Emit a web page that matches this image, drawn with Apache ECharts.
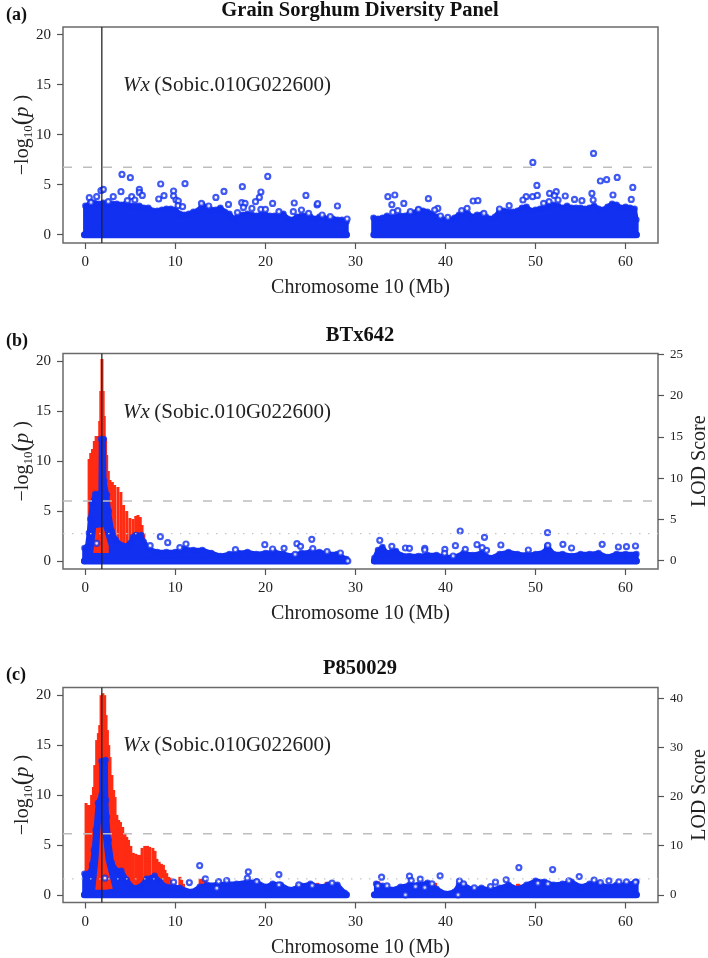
<!DOCTYPE html>
<html><head><meta charset="utf-8">
<style>html,body{margin:0;padding:0;background:#fff}#c{width:708px;height:958px}</style>
<script src="https://cdn.jsdelivr.net/npm/echarts@6/dist/echarts.min.js"></script>
</head><body><div id="c"></div>
<script>
const xTicks=[0,10,20,30,40,50,60];
const yTicks=[0,5,10,15,20];
const lodTicksB=[0,5,10,15,20,25];
const lodTicksC=[0,10,20,30,40];
const geneX=1.83;
const thresholdA=6.74, thresholdB=6.0, thresholdC=6.13;
const dottedB=2.73, dottedC=1.6;
const baseArms=[[-0.1,29],[32.1,61.2]];

const massA1=[[0,0],[0,2.9],[0.5,3.1],[1,3.2],[1.5,3.1],[2,3.2],[2.5,3],[3,3.1],[3.5,3.1],[4,3],[4.5,3.1],[5,2.9],[5.5,2.9],[6,2.9],[6.5,2.7],[7,2.7],[7.5,2.4],[8,2.4],[8.5,2.5],[9,2.6],[9.5,2.6],[10,2.5],[10.5,2.1],[11,2],[11.5,2.1],[12,2.3],[12.5,2.4],[13,3],[13.5,2.7],[14,2.5],[14.5,2.5],[15,2.7],[15.5,2.3],[16,2.1],[16.5,1.6],[17,1.9],[17.5,2],[18,2.1],[18.5,2],[19,1.9],[19.5,2],[20,2],[20.5,1.9],[21,1.9],[21.5,2],[22,2.1],[22.5,1.6],[23,1.5],[23.5,1.8],[24,1.9],[24.5,1.9],[25,1.8],[25.5,1.6],[26,1.8],[26.5,1.7],[27,1.6],[27.5,1.6],[28,1.5],[28.5,1.5],[29,1.3],[29,0]];
const massA2=[[32,0],[32,1.7],[32.5,1.6],[33,1.7],[33.5,1.9],[34,1.7],[34.5,1.8],[35,1.9],[35.5,1.9],[36,2.1],[36.5,2.2],[37,2.5],[37.5,2.4],[38,2.3],[38.5,2.1],[39,1.8],[39.5,1.6],[40,1.5],[40.5,1.5],[41,1.7],[41.5,2],[42,2.2],[42.5,2.1],[43,1.8],[43.5,2],[44,2],[44.5,1.8],[45,1.6],[45.5,1.8],[46,2.4],[46.5,2.4],[47,2.3],[47.5,2.3],[48,2.4],[48.5,2.7],[49,2.8],[49.5,2.4],[50,2.5],[50.5,2.6],[51,2.8],[51.5,2.9],[52,3],[52.5,2.9],[53,2.7],[53.5,2.9],[54,2.7],[54.5,2.7],[55,2.7],[55.5,2.6],[56,2.7],[56.5,2.9],[57,2.6],[57.5,2.5],[58,2.8],[58.5,3.1],[59,3],[59.5,2.7],[60,2.8],[60.5,2.7],[61,2.6],[61.2,1.5],[61.2,0]];
const outA=[[4.07,6.03],[5,5.7],[8.37,5.07],[11.07,5.1],[20.26,5.83],[17.44,4.8],[24.5,3.93],[15.4,4.33],[14.5,3.73],[19.5,4.27],[19.33,3.73],[18.9,3.3],[20.8,3.13],[15.9,3.03],[23.2,3.17],[25.74,2.97],[25.8,3.1],[28,2.87],[29.07,1.57],[3.96,4.3],[6,4.53],[6,4.23],[6.33,3.93],[5.15,3.8],[5.5,3.47],[4.67,3.4],[3.1,3.8],[2.55,3.3],[0.44,3.7],[1.26,3.8],[0.63,3.23],[1.74,4.4],[2,4.53],[9.8,4.37],[9.8,3.87],[8.15,3.57],[8.74,3.9],[10.07,3.47],[10.33,3.37],[10.3,2.9],[10.8,2.8],[17.37,3.2],[17.74,3.13],[17.56,2.73],[18.5,2.63],[19.5,2.53],[20,2.53],[21.5,2.3],[23.1,2.3],[24,2.47],[24.8,2.13],[26.3,1.97],[27.2,1.8],[12.9,3.13],[13.7,2.87],[16.9,2.2],[56.44,8.13],[49.7,7.23],[50.15,4.93],[57.2,5.37],[57.9,5.5],[59.07,5.73],[60.8,4.73],[33.6,3.8],[34.37,3.97],[34.04,3],[35.37,3.13],[38.1,3.6],[43.07,3.37],[43.6,3.4],[39.15,2.63],[38.8,2.47],[42.4,2.63],[47.07,2.9],[48.96,3.8],[48.6,3.47],[49.67,3.8],[50.2,3.93],[51.56,4.13],[52.3,4.3],[52.1,3.9],[51.5,3.3],[50.9,3.13],[52.5,3.47],[53.3,3.87],[54.33,3.53],[55.15,3.4],[56.26,4.13],[58.6,3.97],[60.63,3.53],[56.4,3.47],[34.15,2.23],[34.7,2.4],[37,2.53],[36.1,2.3],[40.26,1.73],[39.44,1.87],[41.8,2.4],[44.26,2.13],[46,2.57]];

const redB=[[0.42,10.2],[0.6,10.8],[0.8,11.2],[1,12],[1.2,12.5],[1.4,12.5],[1.6,14],[1.72,17],[1.85,20.2],[1.98,17],[2.1,14.5],[2.25,12.3],[2.37,10.6],[2.55,9],[2.74,8.1],[3,7.9],[3.25,7.6],[3.62,7.4],[3.95,6.9],[4.25,5.6],[4.6,5],[4.95,4.3],[5.3,4.2],[5.6,4.5],[5.85,4.6],[6.1,4.4],[6.3,3.6],[6.5,2.8],[6.75,1.9],[7.1,1.2]];
const innerRedB=[[0.9,1],[1.2,3.3],[2,3.4],[2.6,1.5],[2.6,0.8]];
const massB1=[[-0.1,0],[-0.1,1.3],[0.2,1.4],[0.4,2.8],[0.55,4.2],[0.75,5.8],[1.1,6.7],[1.7,6.8],[1.75,12.2],[2.05,12.2],[2.1,8],[2.4,6.6],[2.6,5],[2.95,3],[3.4,2.1],[4,1.6],[4.5,1.5],[5,1.8],[5.3,2.4],[5.6,2.6],[6.2,2.6],[6.5,1.9],[7,1.2],[8,0.9],[9,0.9],[10,0.9],[11,1.2],[12,1.1],[13,1.1],[14,0.8],[15,0.5],[16,0.7],[17,0.8],[18,0.9],[19,0.7],[20,0.8],[21,0.9],[22,0.7],[23,0.5],[24,0.8],[25,0.9],[26,0.9],[27,0.7],[28,0.7],[29,0.2],[29,0]];
const massB2=[[32.1,0],[32.1,0.3],[32.5,1.1],[33,1.4],[33.5,0.8],[34,0.9],[34.5,1],[35,0.6],[36,0.5],[37,0.5],[38,0.6],[39,0.6],[40,0.4],[41,0.4],[42,0.8],[43,0.6],[44,0.8],[45,0.3],[46,0.7],[47,0.9],[48,0.7],[49,0.6],[50,0.7],[51,0.9],[51.3,1.5],[52,0.7],[53,0.7],[54,0.5],[55,0.7],[56,0.7],[57,0.8],[58,0.4],[59,0.7],[60,0.7],[61.2,0.7],[61.2,0]];
const outB=[[1.26,1.77],[8.33,2.43],[9.15,1.83],[7.2,1.53],[11.18,1.7],[10.5,1.33],[16.67,1.13],[19.93,1.63],[20.8,1.2],[22.07,1.27],[23.5,1.73],[23.3,0.67],[32.7,2.07],[41.63,3],[44.33,2.37],[51.33,2.83],[53.04,1.67],[57.4,1.67],[46.15,1.6],[41.1,1.53],[43.5,1.63],[39.93,1.17],[39.9,0.77],[34.04,1.47],[35.55,1.3],[36,1.27],[37.7,1.27],[37.7,1.1],[59.2,1.4],[60.1,1.43],[61.1,1.5],[54,1.3],[49.2,1.1],[44.56,1.07],[44.07,1.33],[42.2,1.17],[51.37,1.57],[25.15,2.17],[25.26,1.23],[23.9,1.47],[26.85,0.93],[28.33,0.8],[29.15,0],[40.85,0.5]];

const redC=[[0.08,9.2],[0.3,9],[0.5,9],[0.7,10],[0.9,10.8],[1.05,13],[1.26,15.5],[1.45,16.2],[1.6,17],[1.75,20],[1.95,20.2],[2.15,20],[2.3,18],[2.45,16.5],[2.6,15],[2.74,13.8],[2.95,12],[3.15,10.5],[3.3,9.8],[3.5,8],[3.7,7.5],[3.9,7.3],[4.15,6.8],[4.4,6.2],[4.6,5.8],[4.8,5.5],[5.05,4.9],[5.33,4.2],[5.6,4.1],[5.85,4],[6.07,4],[6.3,4.7],[6.6,4.9],[6.9,4.9],[7.15,4.8],[7.5,4.7],[7.74,4.4],[7.95,3.6],[8.2,3.3],[8.45,3.1],[8.67,3],[8.85,2.5],[9.04,2.17],[9.25,1.8],[9.5,1.7],[10.5,1.8],[10.7,1.5],[10.9,1.1],[12.75,1.6],[13,1.6],[13.3,1.5],[25.8,1.2],[26.75,1.3],[32.4,1.35],[32.6,1.35],[37.4,1.3],[38.9,1.2],[47,1.1],[47.15,1.1],[48,1.1],[48.15,1.1],[49,0.9],[49.3,1]];
const innerRedC=[[1.1,0.5],[1.45,3.5],[1.75,7.5],[1.95,7.5],[2.25,3.5],[3.05,0.6]];
const massC1=[[-0.1,0],[-0.1,2.1],[0.5,2.2],[0.75,3],[0.95,4.5],[1.15,6.5],[1.4,9.2],[1.8,10],[1.8,13.4],[2.25,13.5],[2.3,9.5],[2.4,7.8],[2.6,5.5],[2.95,3.2],[3.5,2.4],[4,2.4],[4.6,1.5],[5.3,0.7],[6.07,0.8],[6.8,1.6],[7.7,1.9],[8.3,1.3],[9,0.8],[9.8,0.8],[10.5,0.7],[11.8,0.3],[12.7,0.8],[13.5,1],[14.6,1],[15.7,1.1],[16.8,1.1],[18,1.3],[19,1.3],[20,0.8],[20.8,1.1],[21.7,1],[22.7,0.5],[23.7,0.8],[24,0.9],[25,1.1],[26,0.8],[27,1],[28,1],[28.8,0.2],[28.8,0]];
const massC2=[[32.3,0],[32.3,1.1],[33,0.9],[34,0.5],[35,0.8],[36,1],[37,1],[38,1.2],[39,0.6],[40,0.1],[41,0.3],[41.5,1],[42,1],[43,0.5],[44,0.7],[45,0.5],[46,0.7],[47,1],[48,0.6],[49,1],[50,1.4],[51,1.3],[52,1],[53,1.1],[54,1.3],[55,0.8],[56,1.1],[57,1.1],[58,0.8],[59,1],[60,1],[61.2,1.3],[61.2,0]];
const outC=[[12.7,2.93],[18.1,2.3],[21.5,2.03],[21.5,1],[13.33,1.6],[11.55,1.23],[9.8,1.27],[14.8,1.33],[15.7,1.43],[18,1.67],[19.04,1.33],[2.18,1.67],[23.7,1],[14.6,0.67],[48.15,2.73],[51.9,2.53],[32.9,1.77],[36,1.87],[37.2,1.57],[39.4,1.9],[54.85,1.83],[46.74,1.5],[45.55,1.27],[45,0.83],[41.55,1.37],[42,1.1],[43.2,0.7],[53.7,1.4],[56.5,1.47],[57.2,1.23],[58.15,1.4],[59.26,1.3],[60.1,1.3],[61.1,1.27],[50.26,1.17],[51.37,1.1],[33.5,0.9],[32.48,0.9],[27.4,1.17],[25.2,0.93],[35.55,0],[38.5,1.1],[41.4,0],[36.2,1.43],[36.67,0.83],[37.7,0.73]];

const SERIF='"Liberation Serif","Times New Roman",serif';
const BLUE='#1130f0', RED='#ff2b12', AXIS='#555';
const XMIN=-2.48, XMAX=63.6;

const panels=[
 {top:27,h:216,ymin:-0.83,ymax:20.77,mass:[massA1,massA2],out:outA,dash:thresholdA},
 {top:353.5,h:215.5,ymin:-0.8,ymax:20.75,mass:[massB1,massB2],out:outB,red:redB,inner:innerRedB,dash:thresholdB,dot:dottedB,lod:lodTicksB,lodMin:-1,lodMax:25.08},
 {top:687.5,h:215,ymin:-0.77,ymax:20.77,mass:[massC1,massC2],out:outC,red:redC,inner:innerRedC,innerBase:0.5,dash:thresholdC,dot:dottedC,lod:lodTicksC,lodMin:-1.56,lodMax:42.2}
];
const grid=[],xAxis=[],yAxis=[],series=[];
const tickFont={fontFamily:SERIF,fontSize:15,color:'#222'};
panels.forEach((p,i)=>{
 grid.push({left:63,width:595,top:p.top,height:p.h,show:true,borderColor:'#6a6a6a',borderWidth:1.5,backgroundColor:'#fff',containLabel:false,outerBoundsMode:'none'});
 xAxis.push({gridIndex:i,type:'value',min:XMIN,max:XMAX,splitLine:{show:false},axisLine:{show:false,onZero:false},
   axisTick:{show:true,length:6,customValues:xTicks,lineStyle:{color:AXIS,width:1.2}},
   axisLabel:{show:true,customValues:xTicks,margin:12,...tickFont,showMinLabel:true,showMaxLabel:true},
   name:'Chromosome 10 (Mb)',nameLocation:'middle',nameGap:35,nameTextStyle:{fontFamily:SERIF,fontSize:20,color:'#222'}});
 yAxis.push({gridIndex:i,type:'value',min:p.ymin,max:p.ymax,splitLine:{show:false},axisLine:{show:false,onZero:false},
   axisTick:{show:true,length:6,customValues:yTicks,lineStyle:{color:AXIS,width:1.2}},
   axisLabel:{show:true,customValues:yTicks,margin:12,...tickFont},
   name:'{a|\u2212log}{b|10}{c|(}{d|p}{a| )}',nameLocation:'middle',nameRotate:90,nameGap:28,nameMoveOverlap:false,
   nameTextStyle:{rich:{a:{fontFamily:SERIF,fontSize:20,color:'#222'},b:{fontFamily:SERIF,fontSize:13,color:'#222',verticalAlign:'bottom'},c:{fontFamily:SERIF,fontSize:25,color:'#222'},d:{fontFamily:SERIF,fontSize:21,fontStyle:'italic',color:'#222'}}}});
 const xi=i, yi=i;
 if(p.red) series.push({type:'bar',xAxisIndex:xi,yAxisIndex:yi,barWidth:3,data:p.red,itemStyle:{color:RED},silent:true,z:2,animation:false});
 p.mass.forEach(m=>{
  series.push({type:'line',xAxisIndex:xi,yAxisIndex:yi,data:m,symbol:'none',smooth:false,lineStyle:{color:BLUE,width:4.5,join:'round',cap:'round'},areaStyle:{color:BLUE,opacity:1,origin:0},z:3,animation:false,silent:true});
  series.push({type:'scatter',xAxisIndex:xi,yAxisIndex:yi,data:m,symbol:'circle',symbolSize:6.5,itemStyle:{color:BLUE},z:3,animation:false,silent:true});
 });
 if(p.inner) series.push({type:'line',xAxisIndex:xi,yAxisIndex:yi,data:p.inner,symbol:'none',lineStyle:{width:0},areaStyle:{color:RED,opacity:1,origin:p.innerBase||0.8},z:4,animation:false,silent:true});
 baseArms.forEach(a=>series.push({type:'line',xAxisIndex:xi,yAxisIndex:yi,data:a.map(x=>[x,0]),symbol:'none',lineStyle:{color:BLUE,width:7,cap:'round'},z:5,animation:false,silent:true}));
 series.push({type:'scatter',xAxisIndex:xi,yAxisIndex:yi,data:p.out,symbol:'circle',symbolSize:5,itemStyle:{color:'#fff',borderColor:BLUE,borderWidth:2.2},z:6,animation:false,silent:true});
 series.push({type:'line',xAxisIndex:xi,yAxisIndex:yi,data:[[XMIN,p.dash],[XMAX,p.dash]],symbol:'none',lineStyle:{color:'#bdbdbd',width:1.5,type:[9,11]},z:7,animation:false,silent:true});
 if(p.dot!=null) series.push({type:'line',xAxisIndex:xi,yAxisIndex:yi,data:[[XMIN,p.dot],[XMAX,p.dot]],symbol:'none',lineStyle:{color:'#c4c4c4',width:1.3,type:[1.5,7.5]},z:7,animation:false,silent:true});
 series.push({type:'line',xAxisIndex:xi,yAxisIndex:yi,data:[[geneX,p.ymin],[geneX,p.ymax]],symbol:'none',lineStyle:{color:'#222',width:1.5,opacity:0.85},z:8,animation:false,silent:true});
});
panels.forEach((p,i)=>{
 if(!p.lod) return;
 yAxis.push({gridIndex:i,type:'value',position:'right',min:p.lodMin,max:p.lodMax,splitLine:{show:false},axisLine:{show:false,onZero:false},
   axisTick:{show:true,length:6,customValues:p.lod,lineStyle:{color:AXIS,width:1.2}},
   axisLabel:{show:true,customValues:p.lod,margin:12,fontFamily:SERIF,fontSize:13,color:'#222'},
   name:'LOD Score',nameLocation:'middle',nameRotate:90,nameGap:32,nameMoveOverlap:false,nameTextStyle:{fontFamily:SERIF,fontSize:20,color:'#222'}});
});
const rt=(text,left,top,extra)=>({text,left,top,textAlign:extra&&extra.align||'left',padding:0,
  textStyle:{fontFamily:SERIF,fontSize:extra&&extra.size||18,fontWeight:extra&&extra.weight||'bold',color:'#111',rich:extra&&extra.rich}});
const wxRich={i:{fontFamily:SERIF,fontStyle:'italic',fontSize:21,color:'#222'},n:{fontFamily:SERIF,fontSize:21,color:'#222'}};
const title=[
 rt('Grain Sorghum Diversity Panel',360,0,{align:'center',size:20.5}),
 rt('BTx642',360,325,{align:'center',size:20.5}),
 rt('P850029',360,658,{align:'center',size:20.5}),
 rt('(a)',6,6),rt('(b)',6,332),rt('(c)',6,666),
 rt('{i|Wx} {n|(Sobic.010G022600)}',123,75,{rich:wxRich,weight:'normal'}),
 rt('{i|Wx} {n|(Sobic.010G022600)}',123,402,{rich:wxRich,weight:'normal'}),
 rt('{i|Wx} {n|(Sobic.010G022600)}',123,735,{rich:wxRich,weight:'normal'})
];
const chart=echarts.init(document.getElementById('c'),null,{renderer:'canvas'});
chart.setOption({animation:false,backgroundColor:'#fff',title,grid,xAxis,yAxis,series});
</script></body></html>
